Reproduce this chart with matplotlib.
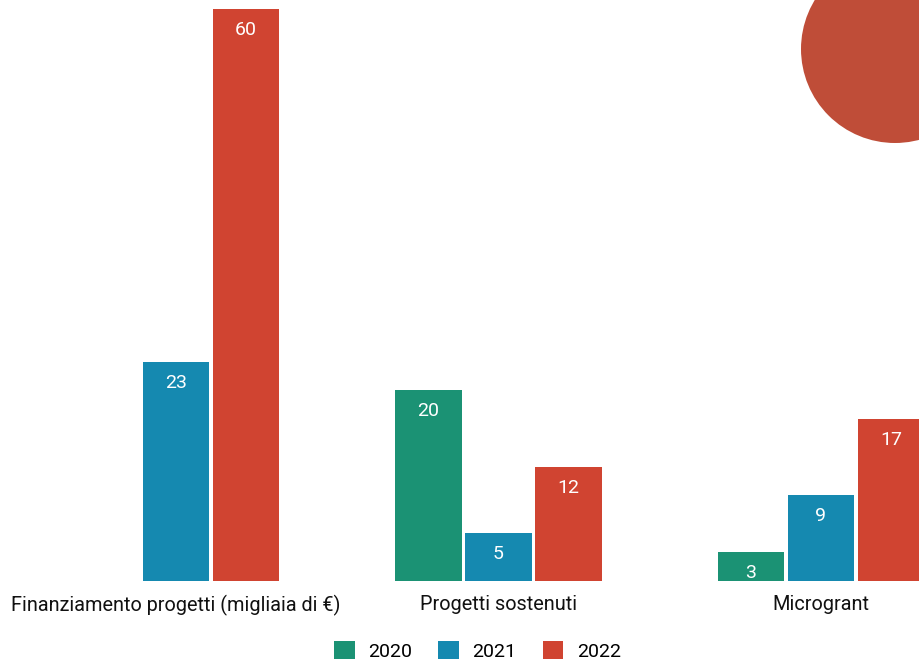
import matplotlib.pyplot as plt
import numpy as np
from matplotlib.patches import Circle, Patch

plt.rcParams['font.family'] = ['Roboto', 'DejaVu Sans']

# dati
categories = ['Finanziamento progetti (migliaia di €)', 'Progetti sostenuti', 'Microgrant']
years = ['2020', '2021', '2022']
values_2020 = [0, 20, 3]
values_2021 = [23, 5, 9]
values_2022 = [60, 12, 17]
colors = ['#1b9274', '#1589b0', '#d04431']

fig = plt.figure(figsize=(9.19, 6.61), dpi=100)
ax = fig.add_axes([0, 80 / 661, 1, 572 / 661])

x = np.arange(len(categories))
width = 0.205
offset = 0.217
series = [values_2020, values_2021, values_2022]

for i, (vals, col) in enumerate(zip(series, colors)):
    pos = x + (i - 1) * offset
    bars = ax.bar(pos, vals, width, color=col)
    for b, v in zip(bars, vals):
        if v > 0:
            ax.annotate(str(v), (b.get_x() + b.get_width() / 2, v),
                        xytext=(0, -21), textcoords='offset pixels',
                        ha='center', va='center', color='white', fontsize=14)

ax.set_xlim(-176 / 322.5, (919 - 176) / 322.5)
ax.set_ylim(0, 60)
ax.set_xticks(x)
ax.set_xticklabels(categories, fontsize=14.3, color='#111111')
ax.tick_params(axis='x', length=0, pad=10)
ax.set_yticks([])
for s in ax.spines.values():
    s.set_visible(False)

# macchia decorativa in alto a destra
blob = Circle((8.95, 6.61 - 0.49), 0.94, transform=fig.dpi_scale_trans,
              facecolor='#bf4d38', edgecolor='none')
fig.patches.append(blob)

handles = [Patch(facecolor=c, label=y) for c, y in zip(colors, years)]
fig.legend(handles=handles, loc='center', bbox_to_anchor=(0.5195, 10 / 661), ncol=3,
           frameon=False, fontsize=14, handlelength=1.05, handleheight=1.05,
           columnspacing=1.35, handletextpad=0.7, borderpad=0, borderaxespad=0)

fig.savefig('out.png', dpi=100)
